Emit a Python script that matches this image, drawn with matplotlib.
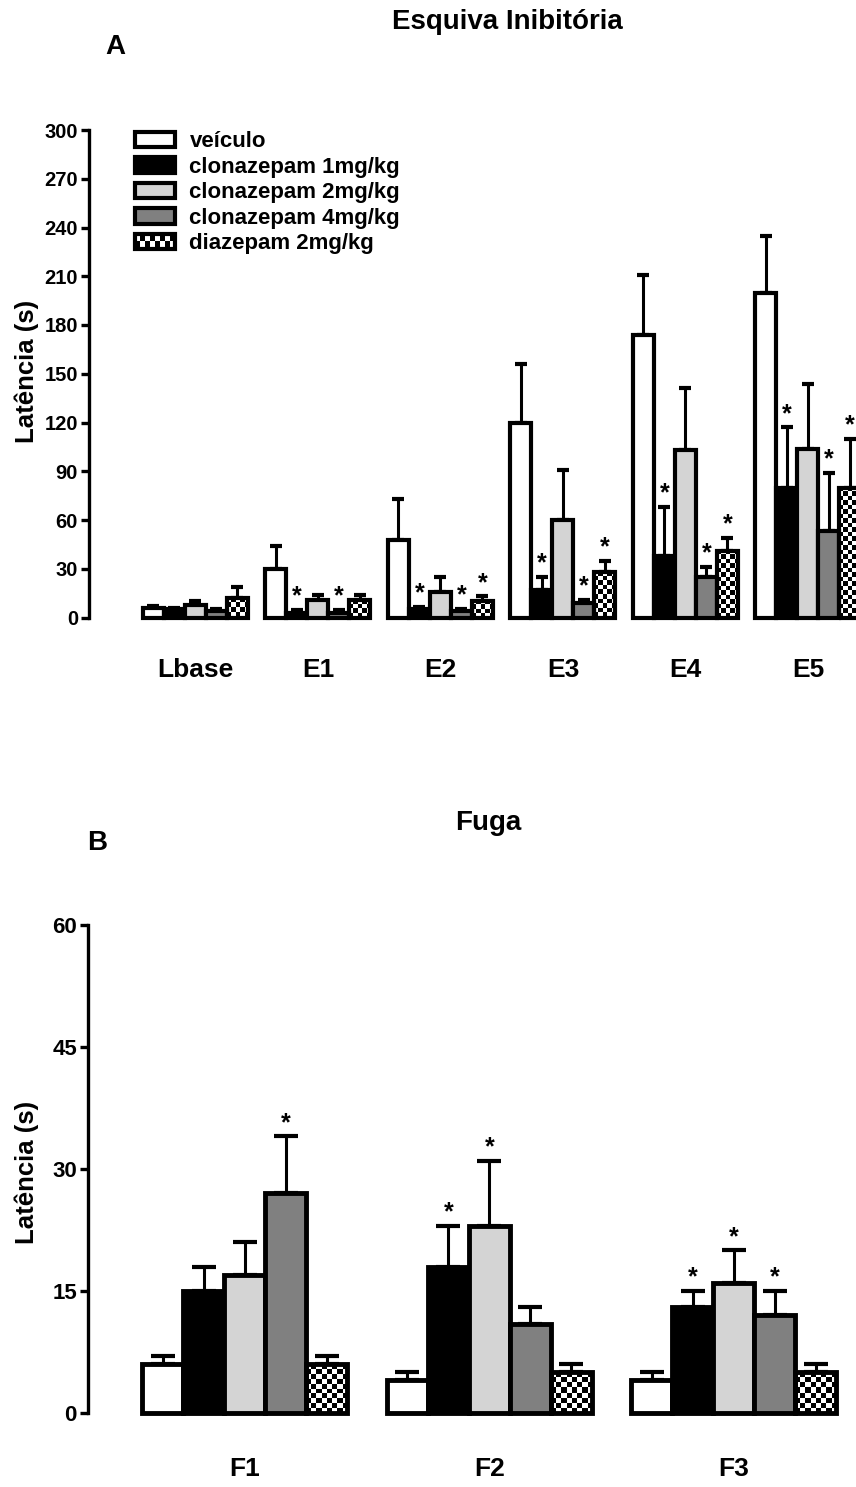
import numpy as np
import matplotlib
matplotlib.use("Agg")
import matplotlib.pyplot as plt
from matplotlib.patches import Patch, Rectangle
from matplotlib.legend_handler import HandlerBase
from matplotlib.colors import ListedColormap

plt.rcParams['font.family'] = ['Liberation Sans', 'DejaVu Sans']
plt.rcParams['font.weight'] = 'bold'

# ---------------- data ----------------
series = ['veículo', 'clonazepam 1mg/kg', 'clonazepam 2mg/kg',
          'clonazepam 4mg/kg', 'diazepam 2mg/kg']
fills = ['white', 'black', '#d4d4d4', '#808080', 'checker']

groups_a = ['Lbase', 'E1', 'E2', 'E3', 'E4', 'E5']
veh_a = [6, 30, 48, 120, 174, 200]
veh_a_err = [1, 14, 25, 36, 37, 35]
clon1_a = [5, 3, 5, 17, 38, 80]
clon1_a_err = [1, 1.5, 1.5, 8, 30, 37]
clon2_a = [8, 11, 16, 60, 103, 104]
clon2_a_err = [2, 3, 9, 31, 38, 40]
clon4_a = [4, 3, 4, 9, 25, 53]
clon4_a_err = [1, 1.5, 1.5, 2, 6, 36]
diaz_a = [12, 11, 10, 28, 41, 80]
diaz_a_err = [7, 3, 3, 7, 8, 30]
stars_a = [[], [1, 3], [1, 3, 4], [1, 3, 4], [1, 3, 4], [1, 3, 4]]

groups_b = ['F1', 'F2', 'F3']
veh_b = [6, 4, 4]
veh_b_err = [1, 1, 1]
clon1_b = [15, 18, 13]
clon1_b_err = [3, 5, 2]
clon2_b = [17, 23, 16]
clon2_b_err = [4, 8, 4]
clon4_b = [27, 11, 12]
clon4_b_err = [7, 2, 3]
diaz_b = [6, 5, 5]
diaz_b_err = [1, 1, 1]
stars_b = [[3], [1, 2], [1, 2, 3]]

yticks_a = [0, 30, 60, 90, 120, 150, 180, 210, 240, 270, 300]
yticks_b = [0, 15, 30, 45, 60]

W, H = 856, 1487
fig = plt.figure(figsize=(W / 100, H / 100), dpi=100)

axA = fig.add_axes([89 / W, (H - 617.5) / H, (881.5 - 89) / W, 487.5 / H])
axB = fig.add_axes([88 / W, 74 / H, 768 / W, 488 / H])

checker_cmap = ListedColormap(['black', 'white'])


def add_checker(ax, bar, cell_px):
    x0, y0 = bar.get_x(), bar.get_y()
    w, h = bar.get_width(), bar.get_height()
    p = ax.transData.transform([(x0, y0), (x0 + w, y0 + h)])
    ncols = max(1, int(round((p[1, 0] - p[0, 0]) / cell_px)))
    nrows = max(1, int(round((p[1, 1] - p[0, 1]) / cell_px)))
    ii, jj = np.indices((nrows, ncols))
    arr = (ii + jj) % 2
    im = ax.imshow(arr, extent=[x0, x0 + w, y0, y0 + h], origin='lower',
                   cmap=checker_cmap, interpolation='nearest', aspect='auto',
                   zorder=2.5, vmin=0, vmax=1)
    im.set_clip_path(bar)


def draw_panel(ax, groups, vals, errs, stars, width, xlim, ylim, yticks,
               capsize, tick_fs, cell_px, xpad, lw):
    ax.set_xlim(xlim)
    ax.set_ylim(ylim)
    x = np.arange(len(groups))
    n = len(groups)
    for k in range(5):
        xs = x + (k - 2) * width
        fc = 'none' if fills[k] == 'checker' else fills[k]
        bars = ax.bar(xs, vals[k], width, facecolor=fc, edgecolor='black',
                      linewidth=lw, zorder=3, clip_on=False)
        ax.errorbar(xs, vals[k], yerr=[np.zeros(n), errs[k]], fmt='none',
                    ecolor='black', elinewidth=2.2, capsize=capsize,
                    capthick=3, zorder=2, clip_on=False)
        if fills[k] == 'checker':
            for b in bars:
                add_checker(ax, b, cell_px)
    for g, lst in enumerate(stars):
        for k in lst:
            top = vals[k][g] + errs[k][g]
            ax.annotate('*', (x[g] + (k - 2) * width, top), xytext=(0, 1),
                        textcoords='offset points', ha='center', va='bottom',
                        fontsize=18, fontweight='bold')
    ax.set_xlim(xlim)
    ax.set_ylim(ylim)
    for s in ['top', 'right', 'bottom']:
        ax.spines[s].set_visible(False)
    ax.spines['left'].set_linewidth(2.4)
    ax.set_yticks(yticks)
    ax.tick_params(axis='y', length=6, width=2.4, labelsize=tick_fs, pad=2)
    ax.set_xticks(x)
    ax.set_xticklabels(groups)
    ax.tick_params(axis='x', length=0, pad=xpad, labelsize=19)
    for t in ax.get_xticklabels() + ax.get_yticklabels():
        t.set_fontweight('bold')
    ax.patch.set_visible(False)


wa = 21 / 122.5
draw_panel(axA, groups_a,
           [veh_a, clon1_a, clon2_a, clon4_a, diaz_a],
           [veh_a_err, clon1_a_err, clon2_a_err, clon4_a_err, diaz_a_err],
           stars_a, wa, (-0.869, 5.6), (0, 300), yticks_a, 4.3, 14.5, 4.5,
           29.5, 3)

wb = 41 / 244.5
draw_panel(axB, groups_b,
           [veh_b, clon1_b, clon2_b, clon4_b, diaz_b],
           [veh_b_err, clon1_b_err, clon2_b_err, clon4_b_err, diaz_b_err],
           stars_b, wb, (-0.642, 2.499), (0, 60), yticks_b, 8.3, 16, 5, 32,
           3.5)


# ---------------- legend ----------------
class CheckerHandler(HandlerBase):
    def create_artists(self, legend, orig_handle, xdescent, ydescent,
                       width, height, fontsize, trans):
        x0, y0 = -xdescent, -ydescent
        arts = [Rectangle((x0, y0), width, height, facecolor='black',
                          edgecolor='none', transform=trans)]
        ncols, nrows = 8, 2
        cw, ch = width / ncols, height / nrows
        for i in range(ncols):
            for j in range(nrows):
                if (i + j) % 2:
                    arts.append(Rectangle((x0 + i * cw, y0 + j * ch), cw, ch,
                                          facecolor='white', edgecolor='none',
                                          transform=trans))
        arts.append(Rectangle((x0, y0), width, height, facecolor='none',
                              edgecolor='black', linewidth=3, transform=trans))
        return arts


handles = []
for k in range(5):
    if fills[k] == 'checker':
        h = Patch(facecolor='black', edgecolor='black', linewidth=3)
        diaz_handle = h
    else:
        h = Patch(facecolor=fills[k], edgecolor='black', linewidth=3)
    handles.append(h)

axA.legend(handles, series, loc='upper left', bbox_to_anchor=(0.058, 0.997),
           frameon=False, prop={'size': 16, 'weight': 'bold'},
           handlelength=1.8, handleheight=0.7, handletextpad=0.65,
           labelspacing=0.2, borderpad=0, borderaxespad=0,
           handler_map={diaz_handle: CheckerHandler()})

# ---------------- texts ----------------
fig.text(27 / W, 1 - 371 / H, 'Latência (s)', rotation=90, ha='center',
         va='center', fontsize=18.5, fontweight='bold')
fig.text(27 / W, 1 - 1172 / H, 'Latência (s)', rotation=90, ha='center',
         va='center', fontsize=18.5, fontweight='bold')
fig.text(507 / W, 1 - 22 / H, 'Esquiva Inibitória', ha='center', va='center',
         fontsize=20, fontweight='bold')
fig.text(115 / W, 1 - 47 / H, 'A', ha='center', va='center', fontsize=20,
         fontweight='bold')
fig.text(488 / W, 1 - 823 / H, 'Fuga', ha='center', va='center', fontsize=20,
         fontweight='bold')
fig.text(97 / W, 1 - 843 / H, 'B', ha='center', va='center', fontsize=20,
         fontweight='bold')

fig.savefig('out.png', dpi=100)
